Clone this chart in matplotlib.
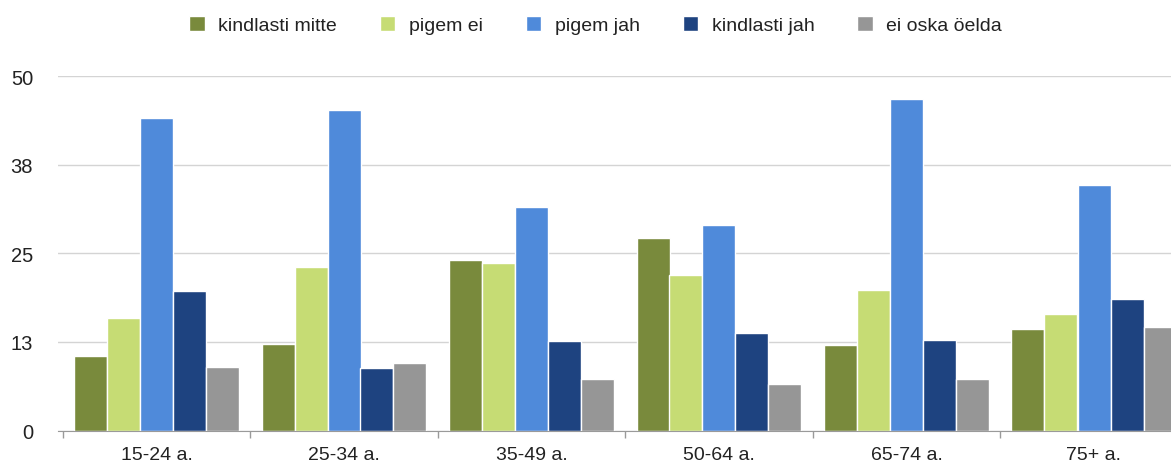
import matplotlib.pyplot as plt
import numpy as np

# andmed
vanuserühmad = ['15-24 a.', '25-34 a.', '35-49 a.', '50-64 a.', '65-74 a.', '75+ a.']
seeriad = ['kindlasti mitte', 'pigem ei', 'pigem jah', 'kindlasti jah', 'ei oska öelda']
kindlasti_mitte = [10.5, 12.2, 24.1, 27.2, 12.1, 14.3]
pigem_ei = [15.9, 23.1, 23.7, 21.9, 19.8, 16.5]
pigem_jah = [44.1, 45.2, 31.5, 29.0, 46.8, 34.7]
kindlasti_jah = [19.7, 8.8, 12.6, 13.8, 12.8, 18.6]
ei_oska = [9.0, 9.5, 7.2, 6.6, 7.2, 14.6]
y_ticks = [0, 12.5, 25, 37.5, 50]
y_tick_labels = ['0', '13', '25', '38', '50']

cores = ['#798a3c', '#c6dc74', '#4f8ada', '#1e4380', '#969696']

plt.rcParams['font.family'] = ['Liberation Sans', 'DejaVu Sans']

fig = plt.figure(figsize=(11.71, 4.64), dpi=100)
# telg ulatub paremalt pildist välja nagu originaalis
ax = fig.add_axes([57.5 / 1171, 32.5 / 464, 1135.5 / 1171, 354.2 / 464])

x = np.arange(len(vanuserühmad))
samm = 0.176
andmed = [kindlasti_mitte, pigem_ei, pigem_jah, kindlasti_jah, ei_oska]
for i, (nimi, vaartused) in enumerate(zip(seeriad, andmed)):
    ax.bar(x + (i - 2) * samm, vaartused, samm, color=cores[i], label=nimi,
           edgecolor='white', linewidth=1.0, zorder=3)

ax.set_xlim(-0.528, len(vanuserühmad) - 0.472)
ax.set_ylim(0, 50)
ax.set_yticks(y_ticks)
ax.set_yticklabels(y_tick_labels)
ax.yaxis.grid(True, color='#d4d4d4', linewidth=1.0, zorder=0)
ax.tick_params(axis='y', length=0, pad=17.5, labelsize=14.5, labelcolor='#222222')

ax.set_xticks(x)
ax.set_xticklabels(vanuserühmad)
ax.set_xticks(np.arange(len(vanuserühmad) + 1) - 0.5, minor=True)
ax.tick_params(axis='x', which='major', length=0, pad=11, labelsize=14, labelcolor='#222222')
ax.tick_params(axis='x', which='minor', length=5, color='#9a9a9a', width=1)

for lado in ['top', 'right', 'left']:
    ax.spines[lado].set_visible(False)
ax.spines['bottom'].set_color('#9a9a9a')
ax.spines['bottom'].set_zorder(4)

fig.legend(loc='center left', bbox_to_anchor=(189 / 1171, 1 - 26 / 464), ncol=5,
           frameon=False, fontsize=14, handlelength=0.8, handleheight=0.8,
           handletextpad=0.7, columnspacing=2.2, borderpad=0, borderaxespad=0,
           labelcolor='#222222')

fig.savefig('out.png', dpi=100)
